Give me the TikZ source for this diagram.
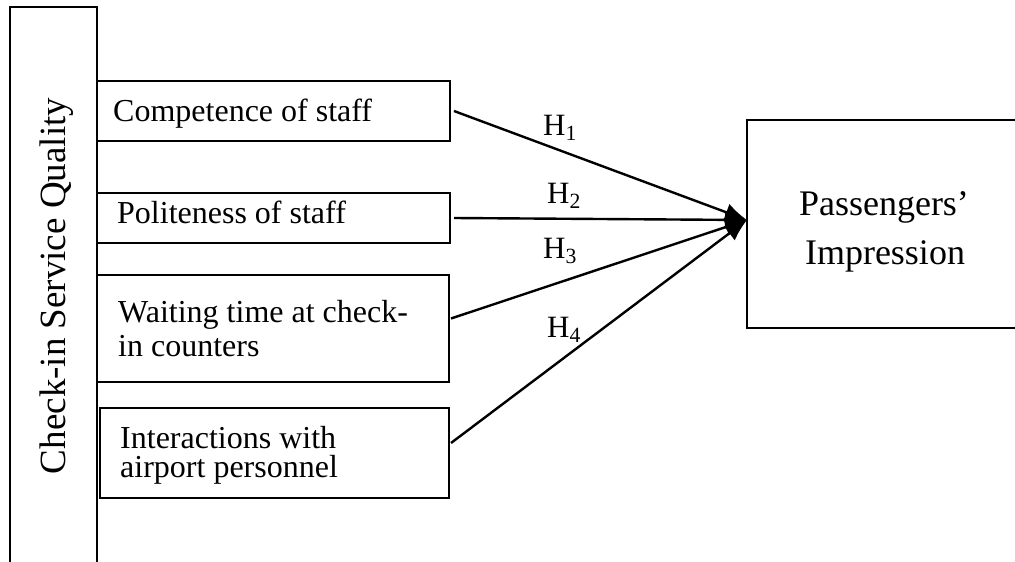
\documentclass[tikz,border=0pt]{standalone}
\usepackage{fontspec}
\setmainfont{Liberation Serif}
\usetikzlibrary{arrows.meta}
\begin{document}
\begin{tikzpicture}[x=1pt,y=-1pt,
  box/.style={draw, line width=2pt, inner sep=0pt},
  txt/.style={anchor=base west, inner sep=0pt, font=\fontsize{32}{36}\selectfont},
  hyp/.style={anchor=base west, inner sep=0pt, font=\fontsize{31}{36}\selectfont},
  link/.style={line width=2.4pt, -{Latex[length=22pt,width=18pt]}}]
\useasboundingbox (0,0) rectangle (1015,562);
\clip (0,0) rectangle (1015,562);
\fill[white] (0,0) rectangle (1015,562);
% outer construct box
\node[box, minimum width=87pt, minimum height=613pt] (csq) at (53.5,313.5) {};
\node[rotate=90, anchor=base, inner sep=0pt, font=\fontsize{37}{40}\selectfont] (csqt) at (65,286) {Check-in Service Quality};
% dimension boxes
\node[box, minimum width=353pt, minimum height=60pt] (b1) at (273.5,111) {};
\node[box, minimum width=353pt, minimum height=50pt] (b2) at (273.5,218) {};
\node[box, minimum width=352pt, minimum height=107pt] (b3) at (273,328.5) {};
\node[box, minimum width=349pt, minimum height=90pt] (b4) at (274.5,453) {};
\node[txt] (t1) at (113,121) {Competence of staff};
\node[txt] (t2) at (117,223) {Politeness of staff};
\node[txt] (t3a) at (118,322) {Waiting time at check-};
\node[txt] (t3b) at (118,356) {in counters};
\node[txt] (t4a) at (120,448) {Interactions with};
\node[txt] (t4b) at (120,477) {airport personnel};
% outcome box
\node[box, minimum width=283pt, minimum height=208pt] (pi) at (888.5,224) {};
\node[anchor=base, inner sep=0pt, font=\fontsize{36}{40}\selectfont] (pt1) at (884,215) {Passengers’};
\node[anchor=base, inner sep=0pt, font=\fontsize{36}{40}\selectfont] (pt2) at (885,264) {Impression};
% arrows
\coordinate (tip) at (747,220);
\draw[link] ([xshift=3pt]b1.east) -- (tip);
\draw[link] ([xshift=3pt]b2.east) -- (tip);
\draw[link] ([xshift=1pt,yshift=10pt]b3.east) -- (tip);
\draw[link] ([xshift=1pt,yshift=10pt]b4.east) -- (tip);
% hypothesis labels
\node[hyp] (h1) at (543,135) {H\textsubscript{1}};
\node[hyp] (h2) at (547,203) {H\textsubscript{2}};
\node[hyp] (h3) at (543,258) {H\textsubscript{3}};
\node[hyp] (h4) at (547,337) {H\textsubscript{4}};
\end{tikzpicture}
\end{document}
